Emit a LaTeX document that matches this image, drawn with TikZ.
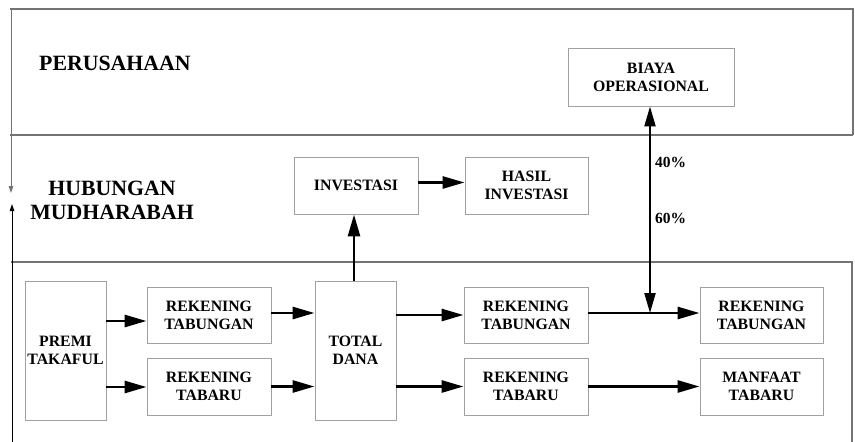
\documentclass[tikz,border=0pt]{standalone}
\usepackage{fontspec}
\setmainfont{Liberation Serif}
\usetikzlibrary{arrows.meta}
\definecolor{bandline}{RGB}{115,115,115}
\definecolor{boxline}{RGB}{160,160,160}
\tikzset{
  box/.style={draw=boxline, line width=0.9pt, align=center, inner sep=0pt,
    font=\bfseries\fontsize{15.8}{18}\selectfont},
  band/.style={draw=bandline, line width=1.2pt},
  arr/.style={line width=2.8pt, -{Triangle[length=22pt,width=12pt]}},
  darr/.style={line width=2.2pt, {Triangle[length=20pt,width=11pt]}-{Triangle[length=20pt,width=11pt]}},
  thinarr/.style={line width=1pt, -{Triangle[length=7pt,width=4.5pt]}},
  bigtitle/.style={font=\bfseries\fontsize{21.8}{24}\selectfont, align=center, inner sep=0pt},
  pct/.style={font=\bfseries\fontsize{15.5}{18}\selectfont, inner sep=0pt}
}
\begin{document}
\begin{tikzpicture}[x=1pt,y=-1pt]
\useasboundingbox[fill=white] (0,0) rectangle (855,442);
% bands
\coordinate (tl) at (10,9);
\coordinate (tr) at (853,9);
\draw[band] (tl) -- (tr) -- (853,135);
\draw[band] (10,135) -- (853,135);
\draw[band] (11,262) -- (853,262);
\draw[band] (852,262) -- (852,442);
\coordinate (la1) at (11,9);
\coordinate (la2) at (11,193);
\coordinate (lb1) at (12,442);
\coordinate (lb2) at (12,204);
\draw[thinarr, bandline] (la1) -- (la2);
\draw[thinarr, black] (lb1) -- (lb2);
% titles
\node[bigtitle, anchor=base west] (per) at (39,70.5) {PERUSAHAAN};
\node[bigtitle, anchor=base] (hub) at (112,219) {HUBUNGAN\\MUDHARABAH};
% boxes
\node[box, minimum width=166pt, minimum height=58pt] (biaya) at (651,77) {BIAYA\\OPERASIONAL};
\node[box, minimum width=124pt, minimum height=57pt] (inv) at (356,185.5) {INVESTASI};
\node[box, minimum width=123pt, minimum height=57pt] (hasil) at (526.5,185.5) {HASIL\\INVESTASI};
\node[box, minimum width=81pt, minimum height=139pt] (premi) at (65.5,350.5) {PREMI\\TAKAFUL};
\node[box, minimum width=124pt, minimum height=56pt] (rt1) at (209,315) {REKENING\\TABUNGAN};
\node[box, minimum width=124pt, minimum height=57pt] (rb1) at (209,386.5) {REKENING\\TABARU};
\node[box, minimum width=81pt, minimum height=139pt] (total) at (355.5,350.5) {TOTAL\\DANA};
\node[box, minimum width=124pt, minimum height=56pt] (rt2) at (526,315) {REKENING\\TABUNGAN};
\node[box, minimum width=124pt, minimum height=57pt] (rb2) at (526,386.5) {REKENING\\TABARU};
\node[box, minimum width=123pt, minimum height=56pt] (rt3) at (761.5,315) {REKENING\\TABUNGAN};
\node[box, minimum width=123pt, minimum height=57pt] (mt) at (761.5,386.5) {MANFAAT\\TABARU};
% connectors
\draw[arr] ([yshift=29.5pt]premi.east) -- ([yshift=29.5pt]premi.east -| rt1.west);
\draw[arr] ([yshift=-36.5pt]premi.east) -- ([yshift=-36.5pt]premi.east -| rb1.west);
\draw[arr] ([yshift=2pt]rt1.east) -- ([yshift=2pt]rt1.east -| total.west);
\draw[arr] (rb1.east) -- (rb1.east -| total.west);
\draw[arr] (total.east |- rt2.west) -- (rt2.west);
\draw[arr] (total.east |- rb2.west) -- (rb2.west);
\draw[arr] ([yshift=2pt]rt2.east) -- ([yshift=2pt]rt2.east -| rt3.west);
\draw[arr] (rb2.east) -- (mt.west);
\draw[arr] (total.north -| 354,0) -- (inv.south -| 354,0);
\draw[arr] ([yshift=3pt]inv.east) -- ([yshift=3pt]inv.east -| hasil.west);
\coordinate (j) at (650,313);
\draw[darr] (biaya.south -| j) -- (j);
% percentages
\node[pct, anchor=base west] (p40) at (655,167) {40\%};
\node[pct, anchor=base west] (p60) at (655,223) {60\%};
\end{tikzpicture}
\end{document}
